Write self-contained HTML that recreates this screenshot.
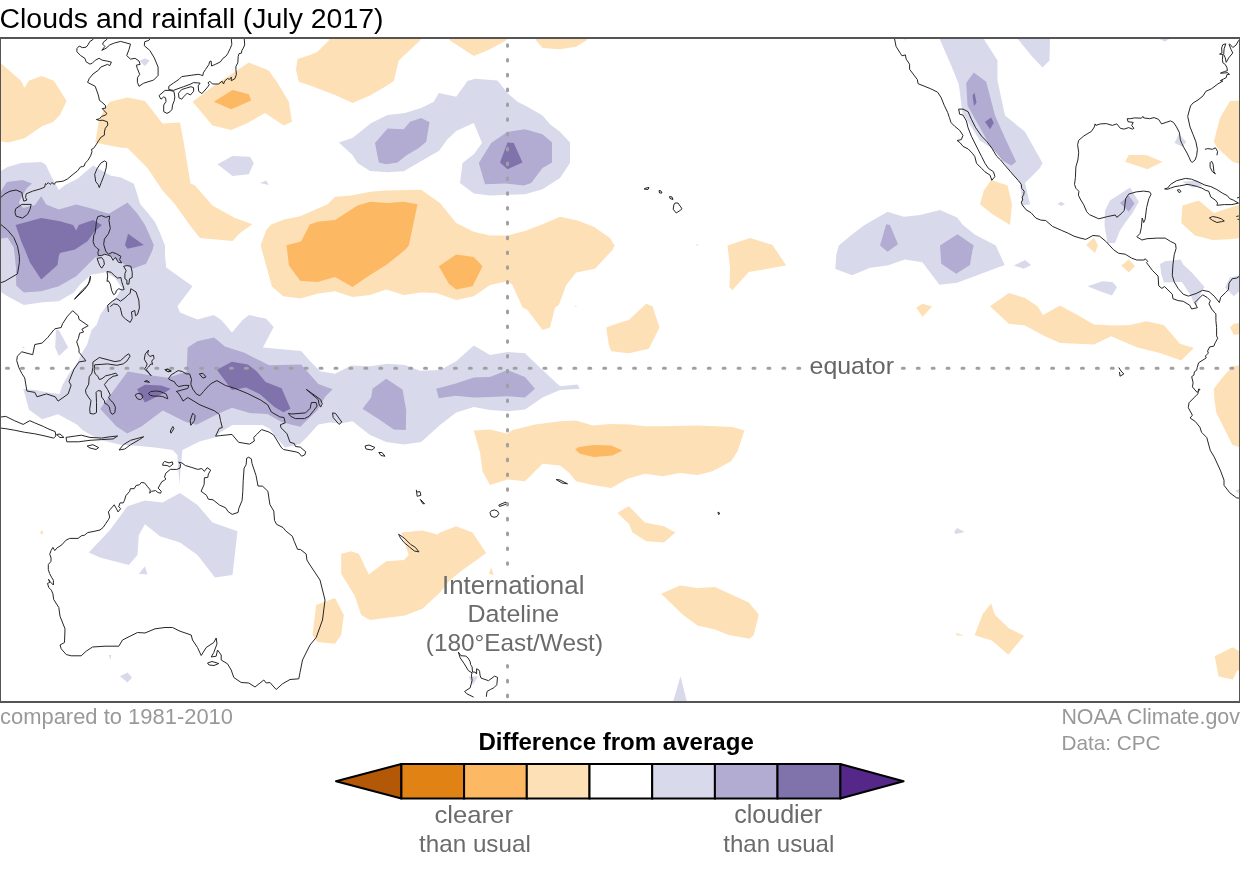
<!DOCTYPE html>
<html><head><meta charset="utf-8"><style>
html,body{margin:0;padding:0;background:#fff;}
body{width:1240px;height:870px;overflow:hidden;position:relative;}
svg{position:absolute;left:0;top:0;will-change:transform;}
text{font-family:"Liberation Sans",sans-serif;}
</style></head><body>
<svg width="1240" height="870" viewBox="0 0 1240 870">
<defs><clipPath id="mc"><rect x="0" y="38" width="1240" height="664"/></clipPath></defs>
<rect x="0" y="0" width="1240" height="870" fill="#fff"/>
<g clip-path="url(#mc)">
<path fill="#fee0b6" d="M-1.0,61.5 L21.0,80.8 L24.5,87.8 L28.7,80.8 L41.4,75.9 L53.9,80.8 L66.6,101.1 L60.3,114.4 L53.2,122.1 L42.0,126.3 L24.5,138.2 L8.4,142.4 L-1.0,141.0 Z M110.0,101.8 L127.5,97.5 L145.0,101.0 L162.5,123.5 L180.0,122.5 L183.8,143.0 L190.5,183.5 L195.0,185.5 L212.5,205.5 L235.0,218.0 L252.5,224.2 L240.0,233.0 L232.5,241.0 L200.0,238.0 L190.0,225.5 L175.0,204.2 L162.5,190.5 L147.5,168.0 L127.5,148.0 L119.9,147.4 L104.4,144.5 L95.3,142.4 L98.9,120.7 L105.0,108.0 Z M192.5,101.8 L212.5,86.8 L248.8,62.5 L268.8,70.5 L277.5,83.0 L288.8,101.8 L292.0,121.8 L283.8,125.5 L265.0,113.0 L247.5,123.0 L231.2,130.0 L212.5,125.5 L200.0,110.5 Z M297.5,59.0 L310.0,55.0 L317.5,51.8 L328.8,40.5 L330.0,37.0 L422.0,37.0 L420.0,40.5 L398.8,60.5 L393.8,81.0 L385.0,86.8 L370.0,95.5 L352.5,103.0 L335.0,95.0 L310.0,85.5 L298.8,81.8 L296.0,70.0 Z M448.0,37.0 L450.0,40.5 L473.8,56.0 L490.0,49.2 L506.2,40.5 L508.0,37.0 Z M535.0,37.0 L536.2,40.5 L542.5,48.0 L560.0,49.2 L576.2,46.8 L586.2,40.5 L588.0,37.0 Z M266.3,230.0 L271.1,224.4 L284.0,219.5 L300.2,216.3 L327.6,204.2 L335.0,196.8 L351.2,195.5 L370.0,191.8 L385.0,190.5 L421.2,189.8 L440.0,203.0 L456.2,223.0 L473.8,231.8 L490.0,235.5 L507.5,235.5 L525.0,231.0 L542.5,224.2 L560.0,216.8 L577.5,220.5 L593.8,226.8 L610.0,238.0 L614.5,245.5 L612.5,250.0 L595.0,268.8 L576.2,272.5 L566.2,285.0 L558.8,305.0 L555.0,307.5 L550.0,327.5 L542.5,330.0 L527.5,310.0 L522.5,307.5 L512.5,285.0 L507.5,281.2 L490.0,285.0 L473.8,296.2 L456.2,300.0 L436.2,293.0 L421.2,292.5 L403.8,295.0 L386.2,289.5 L370.0,295.0 L352.5,297.0 L334.8,291.3 L317.1,293.7 L300.2,298.6 L283.2,296.2 L271.9,286.5 L260.6,245.3 Z M727.5,245.5 L750.0,238.0 L772.5,245.0 L786.2,265.5 L767.5,268.8 L748.8,272.0 L732.5,290.0 L729.5,287.5 L730.0,267.5 Z M606.2,327.5 L620.0,322.5 L628.8,320.0 L646.2,303.8 L652.5,306.2 L659.5,327.5 L648.8,348.8 L628.8,353.2 L611.2,351.2 L608.8,345.0 Z M916.2,307.5 L922.5,303.8 L932.0,306.5 L922.5,317.0 Z M980.0,204.2 L983.8,190.5 L991.2,180.0 L1007.5,185.5 L1012.0,204.2 L1010.0,225.0 L992.5,214.2 Z M1125.0,161.8 L1128.8,155.0 L1146.2,155.0 L1162.5,161.8 L1147.5,169.2 Z M1213.8,141.8 L1220.0,118.0 L1230.0,101.0 L1241.0,100.5 L1241.0,164.2 L1232.5,161.8 L1217.5,148.0 Z M1181.2,223.0 L1182.5,205.5 L1198.8,200.5 L1213.8,213.0 L1225.0,209.2 L1241.0,204.2 L1241.0,238.0 L1230.0,239.2 L1212.5,240.0 L1195.0,235.5 Z M1086.2,245.0 L1093.8,237.5 L1098.0,245.5 L1095.0,253.0 Z M1121.2,265.5 L1128.8,259.5 L1135.0,266.2 L1128.8,272.5 Z M990.0,306.2 L1008.8,293.0 L1025.0,298.0 L1037.5,306.2 L1043.0,315.0 L1060.0,305.5 L1077.5,315.0 L1093.8,324.5 L1115.0,325.5 L1130.0,325.0 L1146.2,321.2 L1163.8,325.0 L1180.0,343.8 L1193.8,348.0 L1181.2,360.5 L1160.0,353.0 L1137.5,347.5 L1111.2,336.2 L1093.8,344.5 L1077.5,343.8 L1060.0,343.0 L1042.5,335.0 L1025.0,325.5 L1008.8,323.8 Z M1230.0,327.5 L1233.8,323.8 L1241.0,323.0 L1241.0,333.8 L1233.8,335.0 Z M1213.8,388.8 L1222.5,377.5 L1232.5,366.2 L1241.0,365.0 L1241.0,447.5 L1232.5,445.0 L1225.0,430.0 L1216.2,412.5 L1214.5,400.0 Z M473.8,430.5 L490.0,429.5 L507.5,433.8 L512.5,430.0 L535.0,424.5 L560.0,421.2 L576.2,420.5 L592.5,425.5 L610.0,424.0 L630.0,424.5 L645.0,426.2 L665.0,426.2 L697.5,425.5 L732.5,427.0 L744.5,430.5 L737.5,451.2 L731.2,461.2 L712.5,471.2 L697.5,475.0 L680.0,473.0 L662.5,476.2 L645.0,473.8 L627.5,478.8 L611.2,488.0 L592.5,485.0 L576.2,481.2 L568.8,472.5 L560.0,465.5 L542.5,463.8 L525.0,481.2 L507.5,479.5 L490.0,485.0 L482.5,471.2 L480.0,452.5 Z M620.0,511.2 L628.8,506.2 L645.0,522.5 L663.8,526.2 L675.5,532.5 L663.8,542.5 L646.2,541.2 L632.5,532.5 L628.8,523.8 L617.5,513.0 Z M661.2,593.8 L680.0,585.5 L697.5,588.0 L715.0,587.0 L748.8,602.5 L758.8,614.5 L753.8,635.0 L749.5,638.8 L728.8,635.0 L715.0,629.5 L697.5,625.5 L682.5,614.5 Z M341.2,553.8 L351.2,551.2 L358.8,553.8 L368.8,574.5 L386.2,561.2 L403.8,560.0 L408.8,555.0 L401.2,532.5 L422.5,530.5 L437.5,534.5 L440.0,532.5 L456.2,526.2 L472.5,532.5 L486.2,553.0 L475.0,561.2 L462.5,570.0 L450.0,580.0 L440.0,592.5 L422.5,608.8 L405.0,615.5 L370.0,620.0 L361.2,615.0 L355.0,596.2 L341.2,573.8 Z M316.2,605.0 L335.0,598.0 L343.8,615.0 L341.2,635.0 L335.0,643.8 L317.5,642.0 L312.5,635.0 L315.0,615.0 Z M974.6,635.2 L982.7,614.1 L991.2,603.3 L994.8,614.7 L1008.9,628.3 L1024.0,635.8 L1008.3,654.8 L991.8,640.4 Z M955.6,632.8 L964.6,635.8 L957.0,635.5 Z M1214.7,656.3 L1232.8,647.3 L1241.0,652.4 L1241.0,670.0 L1237.3,670.5 L1232.8,679.5 L1218.6,676.5 Z M488.8,573.8 L491.2,567.5 L493.8,575.0 Z M904.0,39.0 L906.0,39.0 L905.0,41.0 Z M695.5,245.0 L697.2,244.0 L699.0,245.0 L697.2,245.8 Z M574.5,306.3 L575.7,305.5 L577.0,306.3 L575.7,307.0 Z M21.5,347.6 L23.5,346.5 L25.0,347.6 L23.5,348.4 Z M40.0,532.5 L41.8,530.3 L43.6,532.5 L41.8,534.7 Z"/>
<path fill="#fdb863" d="M213.8,101.8 L232.5,90.0 L248.8,94.2 L251.2,100.5 L231.2,109.2 Z M286.5,245.3 L301.0,241.6 L309.8,224.4 L317.5,221.8 L335.0,220.0 L357.5,205.5 L370.0,201.8 L387.5,203.0 L403.8,201.8 L417.5,204.2 L408.8,245.5 L405.0,250.0 L386.2,265.0 L370.0,275.0 L352.5,287.0 L335.0,277.0 L317.5,282.0 L310.0,281.4 L300.2,280.8 L288.9,265.5 Z M438.8,266.2 L456.2,254.5 L473.8,257.0 L482.5,266.2 L472.5,286.2 L456.2,289.5 L448.8,283.8 Z M575.0,449.5 L578.8,447.0 L593.8,445.0 L611.2,445.5 L622.5,450.5 L612.5,455.5 L593.8,457.0 L580.0,453.8 Z"/>
<path fill="#d8daeb" d="M139.7,61.0 L144.7,58.3 L149.7,60.6 L145.1,66.0 Z M217.5,164.2 L232.5,156.0 L250.0,156.8 L253.8,163.0 L248.8,174.2 L232.5,176.0 Z M260.0,183.0 L266.2,180.5 L268.8,185.0 Z M338.8,142.5 L352.5,138.0 L371.2,123.0 L387.5,115.0 L405.0,113.0 L421.2,108.0 L433.8,101.8 L438.8,93.0 L456.2,96.8 L467.5,81.0 L475.0,78.8 L497.5,80.5 L507.5,93.0 L517.5,101.8 L527.5,106.8 L542.5,115.5 L550.0,124.2 L560.0,131.8 L570.0,142.5 L570.0,163.0 L560.0,178.0 L542.5,189.2 L525.0,194.2 L490.0,195.5 L473.8,193.5 L460.0,183.0 L462.5,163.0 L473.8,154.2 L482.0,143.0 L473.8,123.0 L456.2,131.0 L447.5,139.2 L438.8,151.0 L420.0,161.8 L403.8,171.2 L387.5,172.2 L370.0,171.0 L357.5,163.0 L352.5,155.0 Z M-1.0,172.0 L7.5,166.9 L21.2,163.1 L41.2,161.9 L45.6,164.4 L51.2,176.2 L58.8,190.0 L65.0,185.0 L77.5,178.8 L93.1,165.6 L100.0,169.4 L110.0,175.6 L121.2,177.5 L133.8,183.8 L137.5,195.0 L140.0,203.8 L147.5,212.5 L155.0,222.0 L160.0,233.0 L165.0,245.5 L165.0,255.0 L166.2,267.5 L192.5,286.2 L177.5,306.2 L180.0,312.5 L197.5,319.5 L213.8,315.0 L221.3,320.0 L232.0,332.4 L242.6,320.0 L248.8,315.0 L266.2,318.8 L273.6,327.1 L263.0,347.5 L301.1,351.0 L310.0,361.0 L320.0,371.2 L335.0,373.8 L351.2,365.5 L370.0,366.2 L387.5,363.8 L405.0,365.0 L420.0,370.8 L440.0,370.0 L456.2,361.2 L473.8,345.5 L490.0,355.0 L507.5,352.0 L525.0,353.2 L542.5,370.0 L560.0,386.2 L577.5,384.5 L580.0,388.8 L560.0,390.0 L542.5,397.5 L525.0,409.5 L507.5,411.2 L490.0,410.0 L473.8,407.0 L456.2,412.5 L440.0,425.0 L421.2,442.0 L403.8,444.5 L386.2,442.0 L370.0,435.0 L352.5,421.2 L341.3,423.2 L329.8,422.6 L318.3,424.4 L308.0,435.9 L300.0,443.9 L285.0,447.4 L276.9,438.2 L270.0,429.0 L262.5,425.0 L232.5,425.0 L220.0,432.5 L215.0,437.5 L200.0,441.2 L182.5,450.0 L180.5,470.0 L179.5,485.0 L178.5,470.0 L177.5,455.0 L172.5,450.0 L155.0,447.5 L139.4,446.1 L120.5,444.7 L101.6,440.3 L92.9,436.0 L82.7,430.2 L76.9,424.4 L58.1,414.2 L42.1,419.3 L29.0,409.8 L23.2,388.8 L36.3,390.2 L47.9,392.4 L59.5,393.9 L62.4,385.2 L68.2,375.0 L76.9,363.4 L81.3,354.0 L87.1,344.5 L91.5,330.0 L96.5,325.0 L100.4,314.5 L107.0,305.2 L116.3,297.3 L122.0,288.0 L115.0,278.0 L105.7,272.2 L91.2,274.8 L80.6,284.1 L73.8,292.5 L58.8,301.2 L42.5,302.2 L23.8,305.0 L7.5,296.2 L-1.0,291.0 Z M55.9,330.0 L58.8,330.0 L68.2,347.4 L58.8,356.1 L55.2,347.4 Z M88.8,552.5 L110.0,530.0 L127.5,506.2 L145.0,500.5 L162.5,502.5 L180.0,493.0 L197.5,505.0 L212.5,522.5 L237.5,531.2 L232.5,575.0 L215.0,577.5 L197.5,555.0 L180.0,542.5 L160.0,536.2 L145.0,524.2 L138.8,535.0 L137.5,555.0 L128.8,565.0 L100.0,557.5 Z M138.8,573.8 L145.0,566.2 L147.5,574.5 Z M108.8,655.0 L111.2,655.0 L110.5,660.0 Z M120.0,676.2 L127.5,672.5 L132.0,677.5 L127.5,682.5 Z M938.8,37.0 L982.5,37.0 L997.5,60.5 L997.5,80.5 L1005.0,115.5 L1025.0,131.8 L1042.5,163.0 L1040.0,168.0 L1025.0,183.0 L1030.0,204.2 L1022.5,205.5 L1020.0,183.0 L1012.5,174.2 L995.0,150.5 L980.0,140.5 L962.5,113.0 L958.8,84.2 L951.2,65.5 Z M1016.2,37.0 L1050.0,37.0 L1049.5,60.5 L1042.5,67.5 L1031.2,55.5 Z M1155.0,37.0 L1172.5,37.0 L1165.0,41.5 Z M836.2,255.0 L838.8,245.5 L853.8,233.0 L863.8,225.5 L887.5,211.8 L903.8,216.8 L920.0,215.0 L930.0,212.5 L940.0,210.0 L957.1,217.4 L962.7,224.7 L974.8,234.4 L995.8,245.6 L1004.7,265.0 L957.1,282.7 L939.4,284.8 L922.4,262.3 L904.7,259.4 L887.7,265.5 L870.0,267.7 L852.3,275.2 L835.3,269.0 Z M1013.8,265.5 L1025.0,260.0 L1031.2,265.0 L1023.8,268.8 Z M1087.5,286.2 L1102.5,281.2 L1112.5,282.0 L1117.0,287.0 L1112.0,295.5 L1100.0,291.2 Z M1105.0,210.5 L1110.0,200.5 L1130.0,187.5 L1138.8,201.8 L1132.5,213.0 L1125.0,223.0 L1120.0,230.5 L1115.0,243.0 L1107.5,243.0 L1104.5,225.5 Z M1057.5,203.8 L1061.2,201.8 L1065.0,204.2 L1061.2,206.0 Z M1174.5,143.0 L1178.8,134.2 L1186.2,141.8 L1182.5,146.8 Z M1182.5,181.8 L1197.5,180.5 L1202.5,185.5 L1192.5,187.5 Z M1160.0,263.9 L1165.2,261.3 L1180.6,259.4 L1183.2,264.5 L1192.3,272.9 L1204.5,287.1 L1201.3,292.3 L1198.7,300.0 L1196.1,305.2 L1193.5,302.6 L1191.0,296.1 L1181.9,281.9 L1163.9,282.6 L1161.3,274.2 Z M1225.0,287.5 L1230.0,277.5 L1241.0,275.0 L1241.0,290.0 L1233.8,296.2 Z M954.1,531.9 L957.1,528.0 L964.6,531.9 L955.6,534.0 Z M673.0,702.0 L680.5,676.2 L687.0,702.0 Z M1235.0,491.0 L1241.0,488.0 L1241.0,494.0 Z M468.4,676.6 L478.1,676.6 L472.9,684.8 Z"/>
<path fill="#b2abd2" d="M375.0,143.0 L387.5,128.5 L403.8,129.2 L410.0,121.8 L421.2,118.0 L429.5,122.2 L426.2,141.8 L418.8,148.0 L406.2,155.5 L397.5,162.5 L386.2,164.2 L378.8,162.5 Z M478.8,163.0 L491.2,143.0 L507.5,131.8 L525.0,129.2 L542.5,134.2 L552.0,142.5 L552.0,162.5 L542.5,168.0 L531.2,183.0 L523.8,185.5 L505.0,183.5 L485.0,184.2 Z M-1.0,196.2 L2.5,188.8 L6.9,181.9 L22.5,180.0 L31.9,183.5 L26.9,188.1 L21.9,196.2 L18.8,202.5 L23.1,208.1 L35.0,205.0 L41.2,196.2 L46.2,204.4 L58.8,209.4 L76.2,204.4 L92.5,208.8 L108.8,213.8 L127.5,202.5 L137.5,213.8 L145.0,225.0 L153.8,245.0 L152.5,250.0 L146.2,263.8 L132.5,268.8 L121.2,262.5 L107.5,253.8 L95.0,257.5 L76.2,276.2 L58.8,286.2 L41.2,291.2 L23.8,292.5 L16.2,285.6 L16.0,268.0 L13.8,247.5 L7.5,237.5 L-1.0,238.8 Z M100.2,409.1 L127.7,371.4 L148.6,375.0 L168.1,377.7 L186.7,371.4 L187.6,347.5 L197.3,341.3 L214.2,337.4 L224.8,346.6 L244.4,352.8 L260.3,360.8 L269.2,365.2 L301.1,364.4 L318.3,384.1 L332.6,389.3 L325.2,396.8 L317.1,410.6 L304.5,422.6 L300.5,426.7 L290.7,424.4 L281.5,422.1 L267.4,414.0 L249.7,413.1 L231.9,407.8 L217.8,414.0 L196.5,424.7 L185.8,422.0 L162.8,410.5 L141.4,426.5 L127.3,433.6 L116.6,426.5 Z M362.5,408.8 L371.2,397.5 L372.5,388.8 L386.2,378.8 L402.5,389.5 L406.2,410.0 L405.8,430.0 L393.8,429.5 L380.0,420.0 Z M436.2,388.8 L455.0,383.8 L473.8,377.5 L490.0,377.0 L507.5,370.0 L525.0,377.0 L535.0,388.8 L525.0,397.5 L507.5,396.2 L490.0,397.0 L473.8,397.5 L455.0,395.8 L438.8,398.2 Z M966.2,83.0 L973.8,72.5 L986.2,81.8 L995.0,115.5 L1005.0,138.0 L1016.2,161.8 L1011.2,165.5 L1002.5,160.5 L990.0,145.5 L967.5,105.5 Z M880.0,245.5 L886.2,224.2 L890.0,225.0 L898.0,244.2 L887.5,251.8 Z M940.0,245.5 L957.5,234.2 L973.8,245.5 L972.5,250.0 L970.0,265.0 L956.2,273.8 L941.2,263.8 Z M1120.0,203.0 L1128.8,195.5 L1134.5,203.5 L1128.8,211.8 Z"/>
<path fill="#8073ac" d="M500.0,162.5 L507.5,142.5 L513.8,143.0 L522.5,162.5 L507.5,169.2 Z M15.6,225.0 L41.2,218.1 L60.0,221.2 L73.1,225.0 L76.2,230.6 L78.8,225.0 L93.1,220.0 L101.9,225.0 L93.8,232.5 L87.5,241.2 L75.0,249.4 L60.0,253.1 L58.8,256.0 L57.5,265.0 L41.2,279.4 L30.0,262.5 L25.0,250.0 L21.2,241.2 Z M125.0,245.0 L128.1,233.8 L143.8,245.0 L127.5,248.8 Z M216.9,369.7 L231.9,361.7 L247.9,364.4 L256.8,371.4 L265.6,382.1 L281.6,388.3 L290.5,408.7 L283.4,412.3 L274.5,406.9 L260.3,394.5 L246.1,387.4 L231.9,390.1 Z M137.0,389.2 L145.0,384.8 L161.0,385.6 L170.7,388.8 L164.5,392.8 L145.0,402.5 Z M972.5,95.5 L974.5,92.5 L976.5,102.5 L974.0,106.0 Z M985.0,121.8 L991.2,117.5 L993.8,123.0 L990.0,129.2 Z"/>
<path fill="none" stroke="#262626" stroke-width="1" stroke-linejoin="round" d="M93.5,38.0 L92.6,39.9 L89.9,41.4 L88.0,44.9 L86.1,47.2 L82.3,47.6 L79.2,46.0 L76.9,48.7 L76.9,51.8 L80.7,55.6 L84.9,58.3 L86.1,61.8 L89.9,64.1 L92.2,63.3 L95.3,60.2 L99.1,58.3 L102.2,60.2 L106.8,61.0 L111.4,62.1 L109.8,65.6 L107.5,64.4 L100.7,67.1 L98.4,70.2 L93.0,74.0 L89.2,78.6 L87.6,82.4 L95.2,86.3 L98.3,95.0 L99.5,100.5 L101.6,101.9 L105.3,105.3 L105.7,108.1 L102.2,108.6 L106.7,113.3 L105.7,115.0 L101.6,116.4 L99.5,118.8 L96.4,119.5 L99.5,120.5 L102.9,120.2 L107.4,121.9 L107.8,125.0 L105.3,128.3 L104.4,132.0 L104.4,135.2 L101.2,137.0 L98.9,140.2 L96.1,144.8 L93.4,148.5 L91.5,149.4 L92.0,151.7 L90.6,155.9 L87.8,160.5 L85.1,163.2 L84.2,166.0 L82.8,166.5 L80.5,166.9 L77.7,170.6 L73.1,174.3 L67.6,178.9 L63.0,181.2 L55.6,182.1 L54.3,184.4 L52.0,182.6 L50.1,184.4 L48.3,182.6 L46.4,184.4 L45.5,183.5 L44.6,187.2 L40.0,189.0 L32.5,191.2 L26.2,193.8 L25.6,197.5 L26.9,200.0 L23.8,201.2 L22.5,196.2 L21.9,192.5 L16.2,190.0 L10.0,191.2 L5.0,193.8 L0.0,198.1 M107.5,38.0 L106.4,39.9 L103.7,41.8 L102.6,44.1 L104.9,46.4 L101.8,50.3 L106.0,48.3 L109.8,44.9 L114.4,43.0 L120.6,41.4 L130.5,44.1 L129.0,49.5 L126.7,55.6 L130.5,59.1 L135.1,58.3 L139.0,61.0 L140.1,64.4 L136.3,65.2 L137.4,68.7 L139.7,74.4 L137.4,77.8 L137.4,82.4 L139.0,86.3 L143.6,83.2 L153.5,80.1 L158.1,75.5 L158.1,67.1 L154.3,57.9 L149.7,50.3 L144.3,45.7 L144.7,41.8 L148.9,40.3 L150.5,38.0 M159.1,95.5 L165.1,90.4 L169.3,90.4 L173.9,91.3 L174.8,96.9 L174.3,100.5 L172.5,105.1 L172.0,109.3 L170.2,111.6 L167.0,113.4 L163.7,111.6 L163.7,105.1 L166.0,101.5 L165.6,97.8 L163.7,96.9 L161.0,99.2 L159.6,96.9 Z M178.5,93.2 L181.7,89.5 L186.3,88.1 L190.9,86.7 L193.6,87.7 L193.6,91.3 L190.4,95.0 L187.2,93.2 L183.5,96.9 L181.7,99.2 L178.9,97.8 Z M231.3,38.0 L231.8,44.4 L230.4,48.1 L227.7,53.6 L225.8,56.4 L223.1,58.2 L220.3,61.9 L215.7,64.2 L211.6,66.0 L211.1,61.0 L209.7,61.5 L208.8,64.7 L205.6,69.3 L203.3,72.9 L202.8,75.7 L200.5,74.8 L198.2,74.3 L191.8,75.2 L181.7,76.6 L178.9,79.4 L173.4,83.1 L168.8,86.3 L168.8,89.5 L173.4,90.4 L177.1,89.0 L183.5,86.7 L189.9,84.4 L193.6,82.6 L200.1,83.1 L198.2,85.8 L198.7,91.3 L201.9,93.6 L205.1,90.0 L207.9,86.7 L209.3,84.4 L207.9,83.1 L209.7,81.2 L212.5,84.0 L218.5,84.0 L222.1,81.2 L223.5,84.0 L224.9,80.8 L227.6,78.5 L229.5,79.4 L231.3,77.1 L231.3,80.8 L235.0,78.5 L236.4,74.3 L235.9,69.7 L235.9,66.5 L237.8,62.8 L238.2,56.4 L239.1,53.6 L241.4,53.2 L241.9,50.4 L243.3,48.1 L244.7,44.9 L244.2,38.0 M104.4,160.9 L106.7,162.3 L106.2,167.8 L104.4,174.3 L101.2,182.6 L99.3,187.6 L98.0,184.4 L95.7,181.6 L94.7,174.3 L97.0,168.8 L100.7,163.2 Z M15.6,208.8 L21.9,204.4 L31.2,204.4 L30.0,209.4 L27.5,214.4 L22.5,218.1 L16.2,216.2 L15.0,212.5 Z M0.0,223.8 L7.5,230.0 L13.8,237.5 L17.5,246.2 L19.4,256.2 L19.4,262.5 L17.5,273.8 L5.0,281.2 L0.0,283.0 M97.8,216.6 L101.7,215.6 L105.7,217.3 L109.7,216.0 L109.0,220.6 L110.3,228.5 L108.4,233.8 L104.4,239.1 L103.7,244.4 L105.7,251.0 L108.4,254.3 L112.3,252.3 L116.3,253.7 L120.9,256.3 L119.6,259.6 L121.6,262.9 L118.3,262.2 L115.6,257.6 L113.7,258.9 L113.0,260.3 L111.0,256.3 L107.7,255.0 L104.4,254.3 L101.7,255.6 L98.4,255.6 L97.8,252.3 L99.1,249.7 L97.1,248.4 L94.5,245.7 L93.1,241.7 L93.8,235.1 L95.1,233.1 L95.8,227.2 L96.5,220.6 Z M97.1,258.3 L101.7,257.6 L103.7,260.3 L104.4,264.2 L101.7,268.2 L99.8,265.6 L98.4,262.2 Z M107.0,271.5 L111.0,272.2 L114.3,275.5 L117.6,278.1 L120.9,277.5 L121.6,281.4 L122.9,285.4 L124.2,289.4 L122.2,290.0 L118.9,288.7 L116.3,290.7 L115.6,293.3 L113.7,294.7 L111.7,290.7 L110.3,284.1 L108.4,280.8 L107.0,281.4 L107.7,276.1 Z M123.6,266.2 L126.9,265.6 L130.8,266.2 L132.2,272.2 L132.2,277.5 L129.5,278.8 L128.9,284.1 L126.9,284.1 L126.9,280.1 L124.9,278.8 L124.9,273.5 L126.2,270.8 Z M108.4,311.9 L107.7,305.2 L112.3,301.3 L116.3,298.6 L118.9,299.9 L120.3,301.3 L124.9,298.0 L128.2,294.7 L130.2,293.3 L130.8,288.7 L136.1,292.0 L138.8,300.0 L139.4,307.9 L137.5,314.5 L135.5,315.8 L134.8,310.5 L131.5,311.9 L132.2,318.5 L130.2,322.4 L125.6,319.1 L122.2,315.8 L120.3,307.9 L117.6,304.6 L113.7,303.9 L110.3,306.6 M90.5,276.1 L89.8,281.4 L87.2,285.4 L81.9,290.7 L75.3,298.0 L74.6,299.3 L77.9,296.0 L84.6,289.4 L88.5,284.1 Z M55.0,328.8 L61.2,327.5 L62.5,323.8 L67.5,316.2 L72.7,310.7 L78.4,315.9 L79.0,319.4 L88.2,325.7 L81.9,329.2 L83.6,332.0 L79.6,333.2 L78.4,338.4 L76.7,341.8 L79.0,348.7 L79.0,352.2 L85.9,360.8 L79.1,361.9 L74.0,369.2 L69.0,381.5 L71.1,385.2 L68.2,393.9 L58.1,401.1 L55.2,396.8 L46.5,393.9 L37.0,396.8 L34.8,392.4 L26.9,391.0 L24.7,377.9 L21.8,373.5 L18.9,367.7 L16.7,360.5 L17.4,356.1 L21.8,351.8 L32.7,354.7 L34.8,344.5 L42.1,343.1 L47.9,337.3 L53.7,330.0 Z M92.9,362.1 L99.3,357.5 L114.9,361.6 L120.4,360.7 L126.0,355.6 L128.7,353.8 L130.1,356.1 L126.9,361.1 L123.2,363.9 L116.8,365.3 L107.6,363.9 L101.1,364.4 L94.7,364.8 L94.2,370.3 L95.2,374.0 L97.9,376.3 L99.3,379.5 L102.1,378.6 L105.7,375.8 L111.3,374.5 L115.8,373.1 L117.7,375.4 L113.1,376.3 L108.5,379.5 L104.4,384.6 L107.6,389.6 L110.3,395.1 L108.5,397.4 L110.8,400.7 L113.1,402.5 L115.4,407.1 L114.9,412.6 L112.2,414.4 L110.3,411.7 L109.4,407.1 L107.1,404.3 L104.8,403.4 L104.4,400.7 L101.6,397.0 L101.1,391.0 L97.9,390.6 L96.1,392.4 L96.5,402.5 L96.5,412.6 L93.8,414.0 L90.1,413.5 L89.7,408.9 L91.0,400.7 L88.3,397.0 L86.0,393.3 L85.5,390.1 L88.7,384.1 L89.2,376.8 L91.9,373.1 L92.9,367.6 Z M148.5,350.1 L147.6,353.8 L149.9,356.5 L153.5,355.2 L154.0,358.4 L151.7,361.1 L152.6,364.4 L150.8,363.9 L148.5,367.1 L146.2,369.4 L151.2,375.8 L148.0,372.2 L144.3,369.0 L146.2,366.7 L147.1,363.9 L144.3,359.3 L145.3,353.8 Z M165.5,370.0 L168.0,369.0 L171.3,371.0 L168.0,371.8 Z M144.4,381.5 L147.0,380.5 L149.5,382.3 Z M135.1,395.1 L137.9,393.3 L141.6,394.2 L143.0,397.0 L140.7,399.7 L137.4,398.8 Z M148.5,393.3 L150.8,391.5 L156.3,391.0 L160.0,391.5 L163.6,392.9 L166.4,394.2 L167.8,398.8 L165.5,397.9 L162.7,396.5 L159.0,396.1 L153.5,396.1 L149.9,395.1 Z M168.5,378.8 L170.9,375.1 L175.7,372.1 L178.1,370.6 L182.4,371.5 L186.0,373.9 L189.6,373.9 L191.5,379.4 L190.8,384.2 L192.7,389.0 L196.3,393.9 L199.9,395.7 L203.5,391.5 L208.4,386.0 L212.0,383.0 L216.9,380.6 L225.3,385.4 L235.0,388.4 L247.1,393.3 L260.4,399.9 L267.7,404.8 L271.3,412.0 L279.8,416.9 L284.0,417.5 L285.2,422.9 L280.4,424.7 L281.0,427.7 L287.0,433.8 L290.0,442.3 L294.3,443.5 L295.5,446.5 L300.3,447.1 L305.8,451.9 L304.6,455.0 L301.5,456.2 L299.1,453.1 L296.1,451.9 L283.4,449.5 L281.0,447.1 L273.7,435.0 L268.9,432.0 L261.6,429.6 L256.8,434.4 L253.7,437.4 L254.4,441.0 L249.5,444.1 L238.6,442.3 L232.0,434.4 L220.5,435.6 L215.6,436.2 L219.3,428.3 L222.3,427.7 L220.5,420.5 L219.3,414.4 L214.4,410.8 L199.9,404.8 L187.8,397.5 L183.0,401.1 L181.2,397.5 L178.1,392.7 L176.3,391.5 L181.2,390.2 L187.8,388.4 L189.0,385.4 L184.2,385.4 L178.7,386.6 L175.7,384.2 L174.5,381.8 L170.3,380.0 Z M199.3,373.9 L202.9,373.3 L206.0,376.9 L202.9,378.1 Z M164.8,369.6 L167.5,369.1 L170.9,371.2 L168.0,371.8 Z M192.7,413.2 L195.1,415.6 L194.5,420.5 L190.8,425.3 L190.2,420.5 Z M172.8,426.5 L173.9,428.5 L171.0,433.2 L170.3,431.0 Z M288.4,413.4 L291.8,414.0 L305.6,412.9 L310.2,408.3 L311.4,402.5 L316.0,402.5 L317.1,406.0 L313.7,410.6 L309.1,416.3 L304.5,418.6 L295.3,418.6 L290.7,416.3 Z M306.2,389.3 L318.3,397.9 L320.6,399.7 L322.3,403.7 L320.6,407.1 L318.9,403.7 L318.3,399.7 Z M332.6,412.9 L335.5,413.4 L341.8,422.1 L339.0,424.4 L333.2,417.5 Z M365.0,446.0 L369.0,445.0 L375.0,447.5 L372.0,450.0 L366.0,449.0 Z M378.8,452.5 L382.0,452.5 L385.0,456.2 L381.0,455.5 Z M0.0,417.1 L5.8,416.4 L14.5,420.7 L23.2,424.4 L29.8,420.7 L34.8,422.9 L43.5,426.5 L47.9,428.7 L55.2,431.6 L55.9,436.0 L53.7,438.1 L45.0,436.0 L34.8,433.8 L24.7,432.3 L14.5,430.2 L5.8,428.7 L0.0,428.0 M56.6,434.5 L60.0,434.0 L63.9,437.4 L60.0,437.5 Z M66.0,437.4 L75.5,436.0 L81.3,435.2 L90.0,437.4 L101.6,438.1 L110.3,436.7 L117.6,436.0 L113.2,438.9 L101.6,439.6 L90.0,440.3 L78.4,441.8 L66.8,441.8 Z M87.1,446.1 L92.9,444.7 L98.7,447.6 L96.0,449.5 L90.0,448.0 Z M119.0,450.0 L123.4,444.7 L130.6,440.3 L143.7,436.7 L139.4,439.6 L130.6,444.7 L124.8,449.0 Z M50.9,561.5 L48.3,564.6 L48.3,569.5 L49.6,573.6 L51.9,577.8 L53.4,580.3 L53.4,585.0 L52.4,584.0 L50.3,581.9 L48.5,579.3 L49.8,582.4 L47.5,583.4 L48.3,586.0 L48.8,587.6 L51.4,590.2 L52.9,593.8 L53.7,599.5 L58.8,607.5 L60.0,616.2 L65.0,628.8 L64.5,642.5 L60.0,645.0 L61.2,648.8 L66.2,654.5 L71.2,655.8 L81.2,655.8 L86.2,651.2 L92.5,647.0 L105.0,646.2 L118.8,646.2 L122.5,640.0 L137.5,632.5 L145.0,633.0 L155.0,628.8 L165.0,627.5 L172.5,627.5 L180.0,631.2 L191.2,635.0 L192.5,640.0 L197.5,647.5 L201.2,655.5 L206.2,647.5 L213.8,642.5 L216.2,638.0 L217.0,643.8 L213.8,652.5 L211.2,657.0 L216.2,656.2 L217.5,650.0 L221.2,655.0 L221.2,660.0 L227.5,663.8 L231.2,670.0 L233.8,677.5 L241.2,682.5 L248.8,683.0 L255.0,687.0 L263.8,680.0 L266.2,683.0 L270.0,682.5 L276.2,689.5 L282.5,683.8 L290.0,679.5 L298.8,678.8 L300.0,672.5 L302.5,660.0 L310.0,645.0 L316.2,637.5 L322.5,620.0 L325.0,600.0 L320.0,580.0 L310.0,565.0 L306.9,560.0 L306.2,554.0 L300.3,549.4 L297.6,549.4 L294.3,541.5 L292.3,536.2 L285.7,530.9 L283.1,527.6 L276.5,524.3 L274.5,520.3 L273.8,511.1 L269.9,504.5 L267.9,491.3 L262.6,486.2 L258.0,486.0 L256.0,475.4 L252.0,463.5 L251.4,458.9 L248.7,457.2 L246.7,458.2 L246.1,464.8 L244.1,468.1 L243.2,480.7 L242.8,491.3 L242.1,500.5 L238.8,508.4 L238.1,512.4 L232.2,514.4 L228.2,511.7 L225.6,507.8 L219.6,505.1 L213.0,499.8 L208.4,499.2 L206.4,495.2 L201.1,491.3 L204.1,484.6 L204.4,477.8 L207.8,477.4 L208.4,474.1 L210.7,470.1 L207.1,467.7 L204.4,471.4 L201.8,468.5 L197.8,469.4 L191.9,467.5 L185.3,465.5 L181.9,462.9 L178.7,462.3 L180.6,464.2 L180.0,468.1 L176.8,469.4 L170.3,469.4 L165.8,473.2 L164.5,477.1 L165.8,479.0 L164.5,480.3 L161.9,481.6 L160.0,484.8 L158.1,488.1 L161.3,491.3 L160.6,493.2 L158.1,492.6 L155.5,490.6 L151.6,491.3 L149.7,493.2 L150.3,490.0 L147.7,486.8 L144.5,482.9 L141.3,482.5 L139.4,484.8 L136.1,485.5 L134.2,488.7 L130.3,488.7 L129.7,491.3 L125.8,495.8 L124.5,500.3 L123.2,502.9 L120.0,502.9 L118.7,506.8 L120.6,508.7 L118.1,511.9 L116.1,508.1 L114.2,504.8 L110.3,509.4 L108.4,511.9 L109.7,517.1 L108.4,519.7 L105.8,523.5 L103.2,527.4 L100.0,530.0 L94.2,531.3 L87.7,532.6 L84.5,535.2 L81.3,535.8 L78.1,538.4 L69.7,538.4 L65.8,540.3 L61.9,544.8 L56.8,548.1 L54.8,550.6 L52.9,547.4 L51.0,550.6 L49.7,554.5 L50.1,555.0 L51.1,558.1 Z M163.2,462.9 L164.5,461.4 L169.0,462.9 L172.3,461.9 L172.9,464.2 L169.7,466.8 L167.1,465.5 L162.6,465.2 Z M207.5,663.0 L212.0,661.5 L218.8,663.5 L214.0,665.5 L209.0,665.0 Z M894.4,38.0 L896.1,46.5 L900.3,53.2 L902.0,55.8 L905.4,54.9 L906.2,59.2 L909.6,64.2 L909.6,69.3 L917.3,79.5 L918.1,83.7 L930.8,88.8 L937.6,92.2 L941.0,97.3 L944.4,105.7 L947.7,112.5 L949.4,117.6 L951.1,122.7 L954.5,126.1 L959.6,130.3 L963.0,135.4 L961.3,139.6 L957.1,140.5 L960.4,143.0 L963.0,146.4 L968.1,148.9 L972.3,153.2 L974.8,156.5 L976.5,163.3 L981.6,168.4 L985.0,171.8 L990.1,175.2 L991.8,180.3 L994.9,176.6 L993.5,171.8 L988.4,168.4 L985.0,163.3 L981.6,156.5 L978.2,149.8 L974.8,143.0 L971.4,136.2 L968.1,127.8 L966.4,121.0 L963.0,115.1 L959.6,114.2 L958.7,109.1 L963.0,109.1 L968.1,111.7 L971.4,119.3 L975.7,127.8 L981.6,136.2 L986.7,141.3 L991.8,148.1 L996.9,156.5 L1000.7,160.0 L1004.6,164.9 L1010.5,171.7 L1013.4,175.1 L1018.3,180.5 L1021.3,184.4 L1021.7,188.3 L1024.2,191.3 L1023.7,194.7 L1022.2,197.1 L1022.7,200.0 L1021.3,202.0 L1022.2,204.9 L1026.1,209.8 L1031.0,212.7 L1035.9,218.1 L1040.8,220.1 L1045.7,220.5 L1052.5,226.4 L1061.3,230.3 L1068.1,233.2 L1074.0,236.2 L1080.0,238.0 L1085.8,239.4 L1092.9,235.5 L1099.4,236.1 L1105.8,241.3 L1113.5,249.7 L1118.7,253.3 L1125.2,254.2 L1131.6,258.1 L1136.8,260.0 L1144.5,260.0 L1145.2,258.7 L1147.7,261.3 L1146.5,262.6 L1152.3,270.3 L1158.1,276.1 L1158.7,285.8 L1161.9,288.4 L1164.5,286.5 L1172.3,294.2 L1172.9,298.7 L1178.1,300.6 L1183.2,301.3 L1189.7,305.2 L1191.6,309.0 L1197.4,307.7 L1194.8,302.6 L1196.8,300.6 L1202.6,294.8 L1207.1,297.4 L1210.3,300.6 L1209.0,303.9 L1211.6,309.0 L1214.8,312.9 L1215.9,313.8 L1215.9,320.7 L1216.6,327.6 L1216.6,335.9 L1217.7,338.3 L1215.2,342.8 L1213.8,346.2 L1209.7,346.9 L1207.6,351.0 L1208.3,353.1 L1205.5,355.9 L1206.2,357.9 L1204.1,359.3 L1198.6,362.8 L1197.2,367.6 L1196.6,370.3 L1194.5,371.7 L1193.8,375.2 L1191.7,376.6 L1193.1,382.8 L1192.4,386.9 L1195.9,391.0 L1197.2,392.4 L1200.0,389.4 L1198.6,389.0 L1197.9,393.8 L1193.8,397.9 L1189.0,402.8 L1188.3,407.6 L1189.5,410.0 L1192.4,415.2 L1190.1,418.0 L1195.3,421.5 L1199.9,427.2 L1201.6,432.4 L1206.8,437.6 L1210.2,450.2 L1214.3,457.1 L1220.6,470.9 L1224.0,480.1 L1224.0,485.3 L1229.8,492.8 L1236.7,497.9 L1241.0,498.3 M1241.0,39.5 L1238.6,40.5 L1236.1,45.0 L1232.8,47.5 L1229.5,43.8 L1229.1,44.6 L1231.1,49.6 L1232.8,52.9 L1228.7,57.9 L1226.2,62.4 L1225.3,57.9 L1223.7,54.5 L1224.1,48.8 L1225.8,43.8 L1222.9,44.6 L1221.6,47.9 L1222.0,52.9 L1219.6,54.1 L1222.9,54.5 L1222.4,59.5 L1222.9,62.8 L1225.3,64.5 L1227.0,67.8 L1227.4,70.7 L1224.5,71.5 L1220.4,73.2 L1227.8,72.7 L1229.5,74.4 L1227.0,74.4 L1226.2,77.7 L1223.7,78.9 L1220.4,80.6 L1222.9,81.0 L1217.9,83.9 L1211.3,88.9 L1205.9,91.3 L1203.0,95.9 L1198.0,100.0 L1193.1,102.9 L1190.6,105.8 L1189.4,110.0 L1187.7,116.4 L1190.0,126.9 L1193.0,134.4 L1195.9,141.8 L1197.4,149.3 L1196.7,155.3 L1195.2,159.8 L1192.2,162.4 L1190.7,161.2 L1189.2,157.5 L1187.0,153.0 L1184.0,147.8 L1181.7,143.3 L1180.3,139.6 L1179.5,132.9 L1176.5,126.9 L1173.5,122.4 L1170.5,120.9 L1166.1,122.4 L1161.6,123.9 L1158.6,119.4 L1154.1,117.6 L1149.6,118.7 L1143.7,117.9 L1142.9,116.4 L1141.4,118.2 L1134.7,117.9 L1130.2,118.7 L1127.2,118.7 L1128.0,121.7 L1133.2,122.4 L1131.7,125.4 L1133.9,128.4 L1132.5,129.1 L1128.7,127.6 L1124.2,129.1 L1120.5,128.4 L1116.8,123.9 L1112.3,125.4 L1106.3,123.6 L1100.3,123.9 L1095.9,125.4 L1095.1,123.9 L1094.4,126.9 L1091.4,131.4 L1083.9,135.9 L1078.7,140.3 L1077.6,144.8 L1078.7,152.3 L1077.9,160.0 L1075.9,166.8 L1075.4,177.6 L1074.5,184.4 L1075.9,188.3 L1078.9,191.3 L1078.4,195.2 L1080.8,200.0 L1083.8,204.9 L1086.7,211.8 L1089.6,214.7 L1098.8,218.8 L1107.8,216.5 L1115.3,215.0 L1116.8,217.3 L1119.8,215.0 L1124.2,210.5 L1125.7,198.6 L1128.7,194.1 L1136.2,191.9 L1143.7,191.1 L1149.6,191.9 L1151.1,194.1 L1148.9,198.6 L1146.6,207.6 L1145.1,219.5 L1143.7,222.5 L1142.2,218.0 L1141.3,227.7 L1140.0,233.5 L1136.8,236.8 L1141.9,240.0 L1147.1,238.7 L1157.4,238.1 L1165.2,238.1 L1170.3,241.3 L1175.5,243.9 L1176.1,248.4 L1174.2,254.8 L1172.9,265.2 L1172.3,275.5 L1174.2,281.9 L1178.1,288.4 L1183.2,294.2 L1188.4,296.1 L1196.1,293.5 L1202.6,290.3 L1209.0,291.6 L1214.2,296.1 L1219.4,302.6 L1220.6,297.4 L1225.8,292.3 L1228.4,289.7 L1229.0,283.2 L1232.3,278.7 L1236.8,278.1 L1241.0,275.0 M1164.6,188.9 L1167.6,188.1 L1170.5,184.4 L1176.5,180.7 L1185.5,178.4 L1191.5,179.2 L1198.9,182.2 L1204.9,185.1 L1210.9,186.6 L1216.9,189.6 L1222.8,193.4 L1227.3,195.6 L1229.6,198.6 L1233.3,200.1 L1238.5,203.1 L1231.8,204.6 L1224.3,204.6 L1216.9,205.3 L1217.6,203.1 L1215.4,200.1 L1210.9,197.1 L1208.6,191.1 L1205.7,190.4 L1201.9,188.1 L1197.4,186.6 L1191.5,185.1 L1187.0,184.4 L1184.0,185.1 L1179.5,185.9 L1175.0,186.6 L1170.5,188.1 L1167.6,189.3 Z M1177.3,190.0 L1179.5,189.6 L1181.0,191.5 L1179.0,192.6 Z M1209.4,218.0 L1212.4,216.5 L1216.9,217.3 L1221.3,218.8 L1224.3,221.0 L1221.3,221.7 L1216.9,222.5 L1212.4,220.3 Z M1204.9,149.3 L1207.9,148.6 L1212.4,149.3 L1215.4,147.8 L1217.6,151.5 L1216.9,155.3 M1210.1,162.7 L1211.6,161.2 L1213.1,164.2 L1213.9,171.7 L1215.4,173.9 L1212.4,171.7 L1210.1,167.2 Z M1236.3,216.5 L1238.5,216.0 L1241.0,217.0 L1241.0,219.5 L1237.5,219.3 M1237.0,198.0 L1241.0,196.5 M644.0,189.0 L646.0,188.0 L649.0,187.5 L648.0,189.5 Z M659.0,190.5 L661.0,191.0 L662.0,193.0 L659.5,193.0 Z M669.5,196.5 L672.0,197.0 L673.0,199.5 L670.0,198.5 Z M675.0,203.0 L678.0,203.0 L682.0,208.8 L680.0,210.5 L676.2,213.0 L673.2,209.2 L673.8,205.0 Z M416.3,489.8 L417.2,496.3 L420.9,495.3 L420.0,491.6 L417.0,492.0 M420.0,499.0 L422.8,503.7 L424.6,503.7 L421.0,500.0 M398.6,534.3 L404.2,538.0 L410.7,544.5 L415.3,547.3 L419.0,551.9 L414.4,551.0 L409.8,547.3 L404.2,542.6 L400.5,538.0 Z M490.0,512.5 L491.5,510.6 L494.5,510.0 L497.5,511.0 L498.8,513.5 L497.0,516.5 L494.0,517.3 L491.0,516.0 Z M498.8,505.0 L506.0,502.0 L506.5,504.0 L499.5,506.5 Z M556.2,479.5 L560.0,480.0 L567.5,483.8 L562.0,483.0 Z M718.0,512.0 L720.0,513.5 L718.5,514.5 Z M1118.8,367.5 L1121.0,371.0 L1123.8,374.0 L1120.0,376.2 L1119.5,372.0 M473.6,697.1 L466.9,693.8 L464.6,691.5 L470.2,687.8 L472.1,680.3 L471.4,675.1 L472.1,672.9 L468.4,670.6 L463.9,663.2 L460.2,657.9 L458.3,652.0 L460.9,655.7 L465.8,656.1 L468.0,657.9 L470.2,661.7 L470.6,664.6 L472.1,666.9 L472.5,672.1 L475.1,672.1 L476.6,674.0 L476.6,668.8 L478.8,669.9 L479.6,671.4 L480.0,675.1 L481.1,678.1 L488.5,680.7 L494.5,676.2 L497.5,677.3 L496.8,684.8 L493.8,687.8 L490.8,689.3 L487.0,691.5 L486.3,696.8"/>
<line x1="507.5" y1="44.7" x2="507.5" y2="576.5" stroke="#a0a0a0" stroke-width="3" stroke-dasharray="1.6 13.2" stroke-linecap="round"/>
<line x1="507.5" y1="665.5" x2="507.5" y2="702" stroke="#a0a0a0" stroke-width="3" stroke-dasharray="1.6 13.2" stroke-linecap="round"/>
<line x1="6.5" y1="368.2" x2="800" y2="368.2" stroke="#a0a0a0" stroke-width="3" stroke-dasharray="2 12.93" stroke-linecap="round"/>
<line x1="902.3" y1="368.2" x2="1240" y2="368.2" stroke="#a0a0a0" stroke-width="3" stroke-dasharray="2 12.93" stroke-linecap="round"/>
</g>
<rect x="0" y="38" width="1240" height="664" fill="none" stroke="#555" stroke-width="2"/>
<text x="-0.5" y="27.7" font-size="28.2" fill="#000" textLength="384" lengthAdjust="spacingAndGlyphs">Clouds and rainfall (July 2017)</text>
<text x="0" y="723.8" font-size="21.7" fill="#999" textLength="233" lengthAdjust="spacingAndGlyphs">compared to 1981-2010</text>
<text x="1061.4" y="723.9" font-size="21.3" fill="#999" textLength="178.6" lengthAdjust="spacingAndGlyphs">NOAA Climate.gov</text>
<text x="1061.4" y="750.3" font-size="20.3" fill="#999" textLength="99.2" lengthAdjust="spacingAndGlyphs">Data: CPC</text>
<text x="478.4" y="749.7" font-size="23.7" font-weight="bold" fill="#000" textLength="275.4" lengthAdjust="spacingAndGlyphs">Difference from average</text>
<text x="809.6" y="373.5" font-size="24.4" fill="#666" textLength="84.4" lengthAdjust="spacingAndGlyphs">equator</text>
<text x="442" y="594.1" font-size="24.9" fill="#6b6b6b" textLength="142.4" lengthAdjust="spacingAndGlyphs">International</text>
<text x="467.6" y="622.4" font-size="23.9" fill="#6b6b6b" textLength="91.6" lengthAdjust="spacingAndGlyphs">Dateline</text>
<text x="425.8" y="650.75" font-size="23.8" fill="#6b6b6b" textLength="177.2" lengthAdjust="spacingAndGlyphs">(180°East/West)</text>
<text x="434.4" y="822.8" font-size="24.8" fill="#6b6b6b" textLength="78.6" lengthAdjust="spacingAndGlyphs">clearer</text>
<text x="419" y="851.9" font-size="23.6" fill="#6b6b6b" textLength="111.8" lengthAdjust="spacingAndGlyphs">than usual</text>
<text x="734.2" y="822.8" font-size="25" fill="#6b6b6b" textLength="87.8" lengthAdjust="spacingAndGlyphs">cloudier</text>
<text x="723.2" y="851.7" font-size="23.6" fill="#6b6b6b" textLength="111.2" lengthAdjust="spacingAndGlyphs">than usual</text>
<path d="M336,781.3 L401.4,764 L401.4,798.5 Z" fill="#b35806" stroke="#000" stroke-width="2" stroke-linejoin="round"/>
<path d="M903.6,781.3 L840.2,764 L840.2,798.5 Z" fill="#542788" stroke="#000" stroke-width="2" stroke-linejoin="round"/>
<rect x="401.4" y="764" width="62.7" height="34.5" fill="#e08214" stroke="#000" stroke-width="2"/>
<rect x="464.1" y="764" width="62.7" height="34.5" fill="#fdb863" stroke="#000" stroke-width="2"/>
<rect x="526.8" y="764" width="62.7" height="34.5" fill="#fee0b6" stroke="#000" stroke-width="2"/>
<rect x="589.5" y="764" width="62.7" height="34.5" fill="#ffffff" stroke="#000" stroke-width="2"/>
<rect x="652.2" y="764" width="62.7" height="34.5" fill="#d8daeb" stroke="#000" stroke-width="2"/>
<rect x="714.9" y="764" width="62.6" height="34.5" fill="#b2abd2" stroke="#000" stroke-width="2"/>
<rect x="777.5" y="764" width="62.7" height="34.5" fill="#8073ac" stroke="#000" stroke-width="2"/>
</svg></body></html>
